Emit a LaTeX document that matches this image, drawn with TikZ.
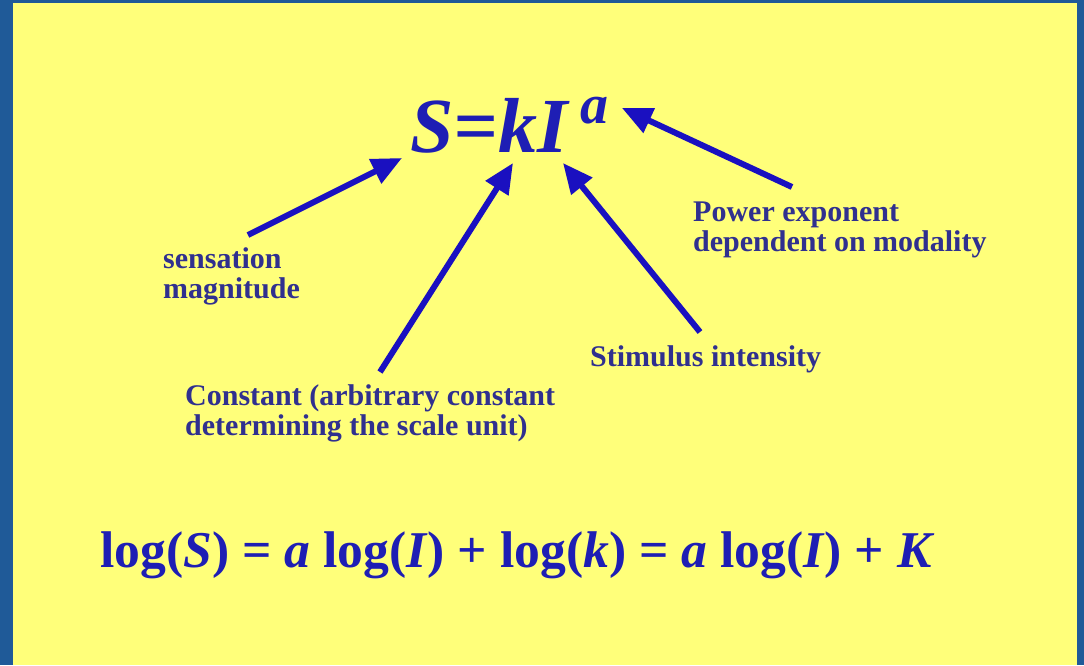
\documentclass[tikz,border=0pt]{standalone}
\usepackage{fontspec}
\setmainfont{Liberation Serif}
\usetikzlibrary{arrows.meta}

\definecolor{slideblue}{HTML}{1F5A98}
\definecolor{slideyellow}{HTML}{FFFF7A}
\definecolor{labelnavy}{HTML}{30308F}
\definecolor{formblue}{HTML}{1E1EB4}
\definecolor{arrowblue}{HTML}{1A10C0}

\begin{document}
\begin{tikzpicture}[
x=1pt, y=-1pt,
every node/.style={
inner sep=0pt,
anchor=base west,
align=left
},
lbl/.style={font=\fontsize{30}{30}\selectfont\bfseries, text=labelnavy},
formula/.style={text=formblue},
arrow/.style={-{Triangle[length=30pt,width=26pt]}, line width=6pt, draw=arrowblue}
]

% slide background
\fill[slideblue] (0,0) rectangle (1084,665);
\fill[slideyellow] (13,3) rectangle (1077,665);

% the law
\node[formula, font=\fontsize{78}{80}\selectfont\bfseries\itshape] (law) at (410,152)
{S=kI\,\raisebox{29pt}{\fontsize{56}{58}\selectfont a}};

% labels (base = last line)
\node[lbl] (sens) at (163,298) {sensation\\magnitude};
\node[lbl] (expo) at (693,251) {Power exponent\\dependent on modality};
\node[lbl] (stim) at (590,366) {Stimulus intensity};
\node[lbl] (const) at (185,435) {Constant (arbitrary constant\\determining the scale unit)};

% log form
\node[formula, font=\fontsize{51.6}{53}\selectfont\bfseries] (logform) at (100,567)
{log(\textit{S}) = \textit{a} log(\textit{I}) + log(\textit{k}) = \textit{a} log(\textit{I}) + \textit{K}};

% arrow ends
\coordinate (sTail) at (248,235);
\coordinate (sTip) at (402,158);
\coordinate (kTail) at (380,372);
\coordinate (kTip) at (513,163);
\coordinate (iTail) at (700,332);
\coordinate (iTip) at (563,163);
\coordinate (aTail) at (792,187);
\coordinate (aTip) at (622,108);

\draw[arrow] (sTail) -- (sTip);
\draw[arrow] (kTail) -- (kTip);
\draw[arrow] (iTail) -- (iTip);
\draw[arrow] (aTail) -- (aTip);

\end{tikzpicture}
\end{document}
